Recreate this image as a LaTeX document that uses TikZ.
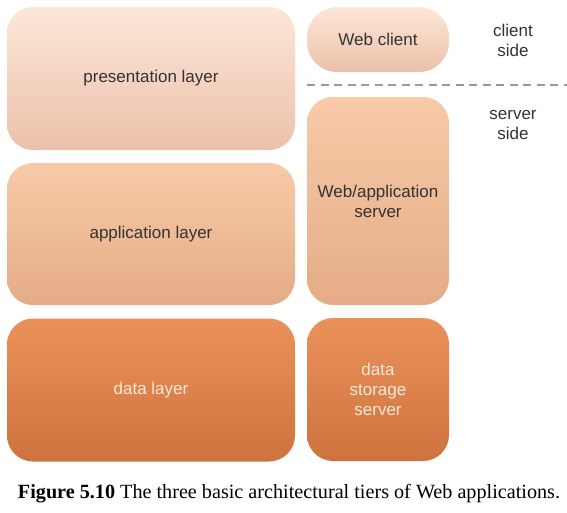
\documentclass[tikz,border=0pt]{standalone}
\usepackage{fontspec}
\setmainfont{Liberation Serif}
\newfontfamily\boxfont{Liberation Sans}
\usepackage{tikz}
\definecolor{presTop}{HTML}{FCE7D8}
\definecolor{presMid}{HTML}{F9DBC7}
\definecolor{presBot}{HTML}{ECC0AA}
\definecolor{applTop}{HTML}{F8CAA8}
\definecolor{applMid}{HTML}{F4C29E}
\definecolor{applBot}{HTML}{E4AC86}
\definecolor{dataTop}{HTML}{EA915A}
\definecolor{dataMid}{HTML}{EE9C66}
\definecolor{dataBot}{HTML}{CF733E}
\definecolor{darkText}{HTML}{333333}
\definecolor{lightText}{HTML}{FCE8D8}
\tikzset{ tier/.style = { rectangle % layer or machine
, rounded corners = 26pt
, inner sep = 0pt
, align = center
, font = \boxfont\fontsize{17}{20}\selectfont
, text = darkText
}
, pres/.style = { tier
, top color = presTop
, middle color = presMid
, bottom color = presBot
}
, appl/.style = { tier
, top color = applTop
, middle color = applMid
, bottom color = applBot
}
, datl/.style = { tier
, top color = dataTop
, middle color = dataMid
, bottom color = dataBot
, text = lightText
}
, side/.style = { align = center % side label
, font = \boxfont\fontsize{17}{20}\selectfont
, text = darkText
}
}

\begin{document}
\begin{tikzpicture}[x=1pt, y=-1pt]
                    \useasboundingbox (0,0) rectangle (567,512);
                    % layers
                    \node[pres, minimum width=288pt, minimum height=143pt] (presentation) at (151, 78.5) {presentation layer};
                    \node[appl, minimum width=288pt, minimum height=142pt] (application) at (151, 234) {application layer};
                    \node[datl, minimum width=288pt, minimum height=143pt] (datalayer) at (151, 390) {data layer};
                    % machines
                    \node[pres, minimum width=142pt, minimum height=65pt, rounded corners=30pt] (client) at (378, 39.5) {Web client};
                    \node[appl, minimum width=142pt, minimum height=208pt] (server) at (378, 201) {Web/application\\server};
                    \node[datl, minimum width=142pt, minimum height=143pt] (storage) at (378, 389.5) {data\\storage\\server};
                    % sides
                    \node[side] (clientside) at (513, 40) {client\\side};
                    \node[side] (serverside) at (513, 125.5) {server\\side};
                    \coordinate (cutL) at (307, 85);
                    \coordinate (cutR) at (567, 85);
                    \draw[gray!80, line width=2pt, dash pattern=on 8pt off 5.5pt] (cutL) -- (cutR);
                    % caption
                    \node (caption) at (289, 493.5) {\resizebox{542pt}{!}{\textbf{Figure 5.10} The three basic architectural tiers of Web applications.}};
                \end{tikzpicture}
\end{document}
